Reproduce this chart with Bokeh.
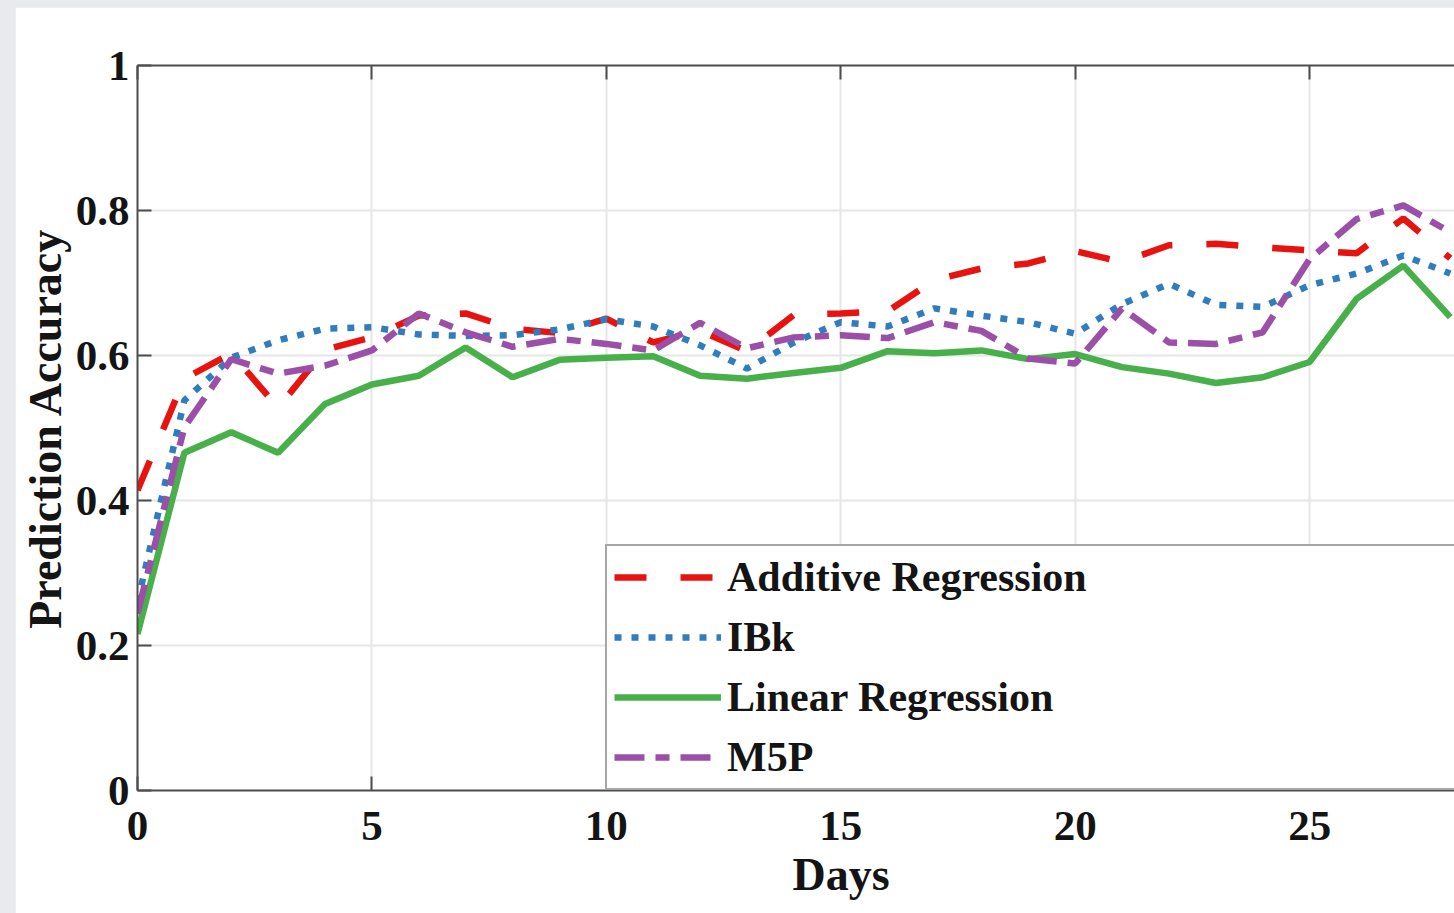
from bokeh.plotting import figure
from bokeh.models import (Range1d, FixedTicker, LinearAxis, Legend, LegendItem,
                          Title, CustomJSTickFormatter)
from bokeh.embed import file_html
from bokeh.resources import INLINE

# ---------------- data ----------------
days = list(range(29))
additive = [0.414, 0.568, 0.603, 0.528, 0.608, 0.625, 0.655, 0.658, 0.637, 0.631,
            0.651, 0.618, 0.634, 0.606, 0.656, 0.658, 0.661, 0.704, 0.720, 0.727,
            0.744, 0.729, 0.752, 0.754, 0.749, 0.745, 0.741, 0.789, 0.734]
ibk = [0.260, 0.538, 0.597, 0.621, 0.637, 0.639, 0.629, 0.627, 0.628, 0.636,
       0.650, 0.640, 0.614, 0.582, 0.618, 0.646, 0.640, 0.665, 0.655, 0.646,
       0.630, 0.671, 0.699, 0.670, 0.667, 0.697, 0.713, 0.738, 0.713]
linear = [0.216, 0.466, 0.494, 0.466, 0.533, 0.560, 0.572, 0.611, 0.570, 0.594,
          0.597, 0.599, 0.572, 0.568, 0.576, 0.583, 0.606, 0.603, 0.607, 0.595,
          0.602, 0.584, 0.575, 0.562, 0.570, 0.591, 0.678, 0.724, 0.653]
m5p = [0.244, 0.501, 0.595, 0.575, 0.586, 0.607, 0.658, 0.632, 0.612, 0.623,
       0.616, 0.607, 0.645, 0.610, 0.625, 0.628, 0.624, 0.646, 0.634, 0.596,
       0.589, 0.665, 0.618, 0.616, 0.632, 0.733, 0.788, 0.807, 0.770]
series_names = ["Additive Regression", "IBk", "Linear Regression", "M5P"]
x_ticks = [0, 5, 10, 15, 20, 25, 30]
y_ticks = [0, 0.2, 0.4, 0.6, 0.8, 1]
y_tick_labels = ["0", "0.2", "0.4", "0.6", "0.8", "1"]
x_label = "Days"
y_label = "Prediction Accuracy"

# ---------------- style ----------------
FONT = "Liberation Serif"
TXT = "#141414"
AX = "#4d4d4d"
GRID = "#e6e6e6"
colors = ["#e8130f", "#2f7dbf", "#48b04a", "#9b4fa8"]
dashes = ["32 34", "7 10", "solid", "30 11 14 11"]

p = figure(width=1439, height=906, output_backend="svg", toolbar_location=None,
           x_range=Range1d(0, 28.09), y_range=Range1d(0, 1),
           min_border_left=122, min_border_right=0, min_border_top=58,
           min_border_bottom=123)
p.margin = (7, 0, 0, 15)
p.background_fill_color = "white"
p.border_fill_color = "white"
p.outline_line_color = None

# axes
for ax in (p.xaxis[0], p.yaxis[0]):
    ax.major_tick_in = 14
    ax.major_tick_out = 0
    ax.minor_tick_line_color = None
    ax.axis_line_color = AX
    ax.axis_line_width = 2
    ax.major_tick_line_color = AX
    ax.major_tick_line_width = 2
    ax.major_label_text_font = FONT
    ax.major_label_text_font_style = "bold"
    ax.major_label_text_font_size = "43px"
    ax.major_label_text_color = TXT

p.xaxis[0].ticker = FixedTicker(ticks=x_ticks)
p.xaxis[0].major_label_standoff = 21
p.yaxis[0].ticker = FixedTicker(ticks=y_ticks)
p.yaxis[0].major_label_overrides = dict(zip(y_ticks, y_tick_labels))
p.yaxis[0].major_label_standoff = 8
p.yaxis[0].axis_label = y_label
p.yaxis[0].axis_label_standoff = 2
p.yaxis[0].axis_label_text_font = FONT
p.yaxis[0].axis_label_text_font_style = "bold"
p.yaxis[0].axis_label_text_font_size = "46px"
p.yaxis[0].axis_label_text_color = TXT

top = LinearAxis(ticker=FixedTicker(ticks=x_ticks),
                 formatter=CustomJSTickFormatter(code="return ''"),
                 major_tick_in=14, major_tick_out=0, major_label_standoff=0,
                 minor_tick_line_color=None, axis_line_color=AX, axis_line_width=2,
                 major_tick_line_color=AX, major_tick_line_width=2)
p.add_layout(top, "above")

p.xgrid.ticker = FixedTicker(ticks=x_ticks)
p.ygrid.ticker = FixedTicker(ticks=y_ticks)
for g in (p.xgrid[0], p.ygrid[0]):
    g.grid_line_color = GRID
    g.grid_line_width = 2

# lines
renderers = []
for ys, c, d in zip([additive, ibk, linear, m5p], colors, dashes):
    r = p.line(days, ys, line_color=c, line_width=6.5, line_dash=d)
    renderers.append(r)

legend = Legend(items=[LegendItem(label=n, renderers=[r]) for n, r in zip(series_names, renderers)],
                location=(468, 0), padding=7, spacing=12, margin=0,
                glyph_width=107, glyph_height=36, label_height=36, label_width=760,
                label_standoff=6, label_text_font=FONT, label_text_font_style="bold",
                label_text_font_size="42px", label_text_color=TXT,
                border_line_color=AX, border_line_width=2,
                background_fill_color="white", background_fill_alpha=1.0)
p.add_layout(legend)

# x axis label: the original axis runs 0-30 days, so its label sits at day 15
days_title = Title(text=x_label, align="left", offset=655, standoff=8,
                   text_font=FONT, text_font_style="bold", text_font_size="46px",
                   text_color=TXT)
p.add_layout(days_title, "below")

html = file_html(p, INLINE, title="Prediction Accuracy")
html = html.replace("</head>",
                    "<style>html, body { background-color: #e9eaed !important; }</style></head>", 1)
open("out.html", "w").write(html)
